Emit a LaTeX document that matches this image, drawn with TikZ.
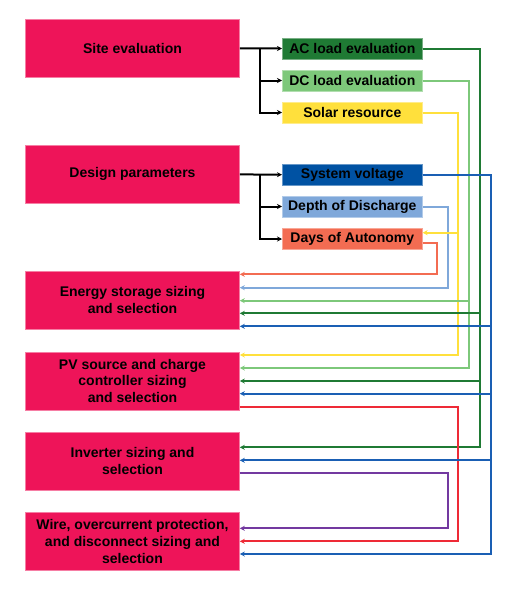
\documentclass[tikz,border=0pt]{standalone}
\usepackage{fontspec}
\setmainfont{Liberation Sans}
\usetikzlibrary{arrows.meta}
\definecolor{boxpink}{HTML}{EE1459}
\definecolor{acgreen}{HTML}{1F7A34}
\definecolor{dcgreen}{HTML}{7DC87A}
\definecolor{solaryellow}{HTML}{FFE03C}
\definecolor{voltblue}{HTML}{0052A3}
\definecolor{lineblue}{HTML}{1A5FB4}
\definecolor{dodblue}{HTML}{7FA8DA}
\definecolor{doaorange}{HTML}{F36C52}
\definecolor{wirered}{HTML}{EE2A36}
\definecolor{invpurple}{HTML}{7339A0}
\tikzset{
  mainbox/.style={draw=boxpink!55!white, line width=0.6pt, fill=boxpink,
    minimum width=214pt, minimum height=58pt, inner sep=0pt, align=center,
    font=\fontsize{14}{16.7}\selectfont\bfseries},
  subbox/.style={draw=#1!60!white, line width=0.6pt, fill=#1,
    minimum width=140pt, minimum height=21pt, inner sep=0pt,
    font=\fontsize{14}{16.7}\selectfont\bfseries},
  link/.style={black, line width=2pt, -{Stealth[length=5pt,width=5pt]}},
  flow/.style={draw=#1, line width=2pt, -{Stealth[length=5pt,width=5pt]}}
}
\begin{document}
\begin{tikzpicture}[x=1pt,y=-1pt]
  \useasboundingbox (0,0) rectangle (514,600);
  % main steps
  \node[mainbox] (site) at (132.5,48.4) {Site evaluation};
  \node[mainbox] (design) at (132.5,174.4) {Design parameters};
  \node[mainbox] (storage) at (132.5,300.3) {Energy storage sizing\\and selection};
  \node[mainbox] (pv) at (132.5,380.8) {PV source and charge\\controller sizing\\and selection};
  \node[mainbox] (inverter) at (132.5,460.8) {Inverter sizing and\\selection};
  \node[mainbox] (wire) at (132.5,541.3) {Wire, overcurrent protection,\\and disconnect sizing and\\selection};
  % inputs
  \node[subbox=acgreen] (ac) at (352.3,48.5) {AC load evaluation};
  \node[subbox=dcgreen] (dc) at (352.3,80.5) {DC load evaluation};
  \node[subbox=solaryellow] (solar) at (352.3,112.5) {Solar resource};
  \node[subbox=voltblue] (volt) at (352.3,174.7) {System voltage};
  \node[subbox=dodblue] (dod) at (352.3,206.5) {Depth of Discharge};
  \node[subbox=doaorange] (doa) at (352.3,239) {Days of Autonomy};
  % forks
  \coordinate (sitefork) at (260,48.4);
  \coordinate (designfork) at (260,174.4);
  \draw[link] (site.east) -- (ac.west);
  \draw[link] (sitefork) |- (dc.west);
  \draw[link] (sitefork) |- (solar.west);
  \draw[link] (design.east) -- (volt.west);
  \draw[link] (designfork) |- (dod.west);
  \draw[link] (designfork) |- (doa.west);
  % buses
  \coordinate (xdoa) at (437,0);
  \coordinate (xdod) at (448,0);
  \coordinate (xsol) at (458.3,0);
  \coordinate (xdc) at (469.3,0);
  \coordinate (xac) at (480,0);
  \coordinate (xvolt) at (490.7,0);
  \draw[flow=doaorange] (doa.east |- 0,243.3) -| (xdoa |- 0,274.3) -- (storage.east |- 0,274.3);
  \draw[flow=dodblue] (dod.east) -| (xdod |- 0,287.7) -- (storage.east |- 0,287.7);
  \draw[flow=solaryellow] (solar.east) -| (xsol |- 0,355) -- (pv.east |- 0,355);
  \draw[flow=solaryellow] (solar.east) -| (xsol |- 0,232.7) -- (doa.east |- 0,232.7);
  \draw[flow=dcgreen] (dc.east) -| (xdc |- 0,368) -- (pv.east |- 0,368);
  \draw[flow=dcgreen] (dc.east) -| (xdc |- 0,300.7) -- (storage.east |- 0,300.7);
  \draw[flow=acgreen] (ac.east) -| (xac |- 0,447.3) -- (inverter.east |- 0,447.3);
  \draw[flow=acgreen] (ac.east) -| (xac |- 0,313.3) -- (storage.east |- 0,313.3);
  \draw[flow=acgreen] (ac.east) -| (xac |- 0,381) -- (pv.east |- 0,381);
  \draw[flow=wirered] (pv.east |- 0,406.7) -| (xsol |- 0,541.3) -- (wire.east |- 0,541.3);
  \draw[flow=invpurple] (inverter.east |- 0,473.3) -| (xdod |- 0,528.3) -- (wire.east |- 0,528.3);
  \draw[flow=lineblue] (volt.east) -| (xvolt |- 0,554) -- (wire.east |- 0,554);
  \draw[flow=lineblue] (volt.east) -| (xvolt |- 0,326.3) -- (storage.east |- 0,326.3);
  \draw[flow=lineblue] (volt.east) -| (xvolt |- 0,393.7) -- (pv.east |- 0,393.7);
  \draw[flow=lineblue] (volt.east) -| (xvolt |- 0,460.3) -- (inverter.east |- 0,460.3);
\end{tikzpicture}
\end{document}
